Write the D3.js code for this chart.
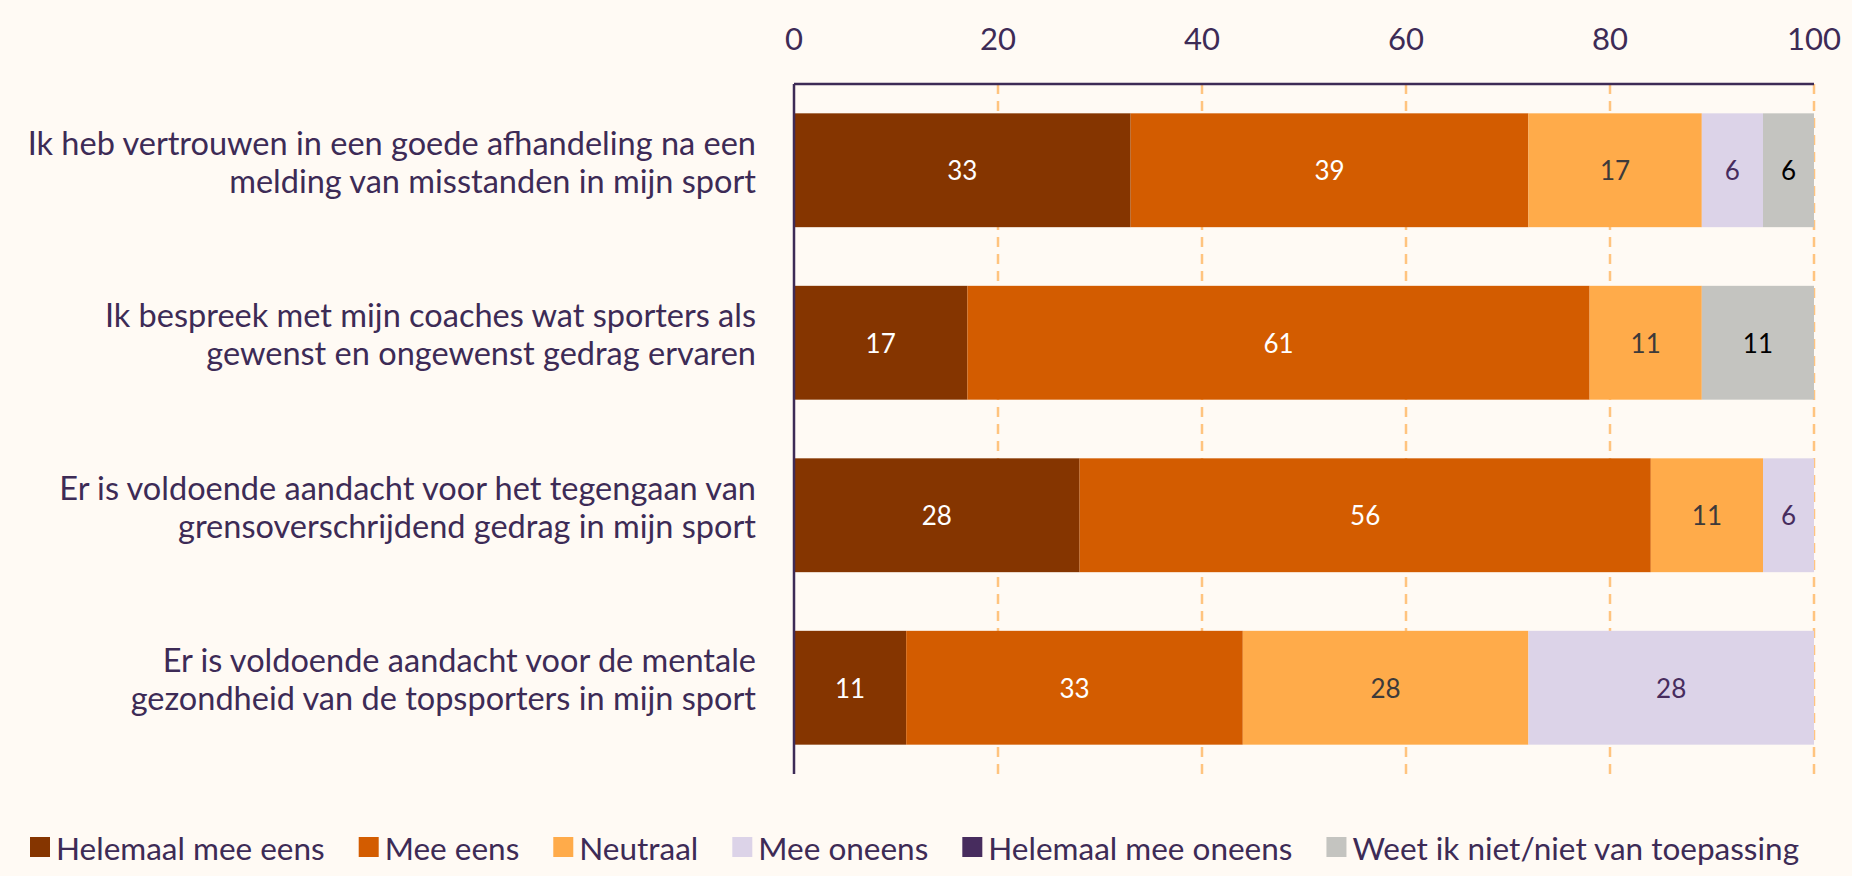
<!DOCTYPE html>
<html lang="nl">
<head>
<meta charset="UTF-8">
<title>Chart</title>
<script src="https://cdn.jsdelivr.net/npm/d3@7"></script>
<style>
  html, body { margin: 0; padding: 0; background: #FFFAF4; }
  svg { display: block; font-family: Lato, "Open Sans", sans-serif; }
</style>
</head>
<body>
<script>
    var categories = [
        ["Ik heb vertrouwen in een goede afhandeling na een", "melding van misstanden in mijn sport"],
        ["Ik bespreek met mijn coaches wat sporters als", "gewenst en ongewenst gedrag ervaren"],
        ["Er is voldoende aandacht voor het tegengaan van", "grensoverschrijdend gedrag in mijn sport"],
        ["Er is voldoende aandacht voor de mentale", "gezondheid van de topsporters in mijn sport"]
    ];
    var series = ["Helemaal mee eens", "Mee eens", "Neutraal", "Mee oneens", "Helemaal mee oneens", "Weet ik niet/niet van toepassing"];
    var values = [
        [33, 39, 17, 6, 0, 6],
        [17, 61, 11, 0, 0, 11],
        [28, 56, 11, 6, 0, 0],
        [11, 33, 28, 28, 0, 0]
    ];
    var ticks = [0, 20, 40, 60, 80, 100];

    var colors = ["#853500", "#D35C00", "#FFAB4A", "#DCD3E8", "#472C5E", "#C4C4C0"];
    var labelColors = ["#ffffff", "#ffffff", "#3D3A3A", "#472C5E", "#ffffff", "#000000"];
    var textColor = "#3D2B56";

    var width = 1852, height = 876;
    var svg = d3.select("body").append("svg")
        .attr("width", width).attr("height", height);

    var x = d3.scaleLinear().domain([0, 100]).range([794, 1814]).clamp(true);
    var y = d3.scaleBand().domain(d3.range(categories.length))
        .range([84, 774]).paddingInner(0.34).paddingOuter(0.17);

    // gridlines
    svg.append("g").selectAll("line").data(ticks.slice(1)).join("line")
        .attr("x1", d => x(d)).attr("x2", d => x(d))
        .attr("y1", 84).attr("y2", 774)
        .attr("stroke", "#FFC47F").attr("stroke-width", 2.5)
        .attr("stroke-dasharray", "10,7");

    // bars
    var rows = svg.append("g").selectAll("g").data(values).join("g");
    rows.each(function (row, i) {
        var g = d3.select(this);
        var start = 0;
        row.forEach(function (v, j) {
            if (v > 0) {
                var x0 = x(start), x1 = x(start + v);
                g.append("rect")
                    .attr("x", x0).attr("y", y(i))
                    .attr("width", x1 - x0).attr("height", y.bandwidth())
                    .attr("fill", colors[j]);
                g.append("text")
                    .attr("x", (x0 + x1) / 2)
                    .attr("y", y(i) + y.bandwidth() / 2)
                    .attr("text-anchor", "middle").attr("dominant-baseline", "central")
                    .attr("font-size", 26).attr("fill", labelColors[j])
                    .text(v);
            }
            start += v;
        });
    });

    // axes lines
    svg.append("line").attr("x1", 794).attr("x2", 1814).attr("y1", 84).attr("y2", 84)
        .attr("stroke", textColor).attr("stroke-width", 2.5);
    svg.append("line").attr("x1", 794).attr("x2", 794).attr("y1", 84).attr("y2", 774)
        .attr("stroke", textColor).attr("stroke-width", 2.5);

    // tick labels
    svg.append("g").selectAll("text").data(ticks).join("text")
        .attr("x", d => x(d)).attr("y", 50)
        .attr("text-anchor", "middle").attr("font-size", 31).attr("fill", textColor)
        .text(d => d);

    // category labels
    var cat = svg.append("g").selectAll("text").data(categories).join("text")
        .attr("text-anchor", "end").attr("font-size", 32.5).attr("fill", textColor)
        .attr("transform", (d, i) => "translate(756," + (y(i) + y.bandwidth() / 2) + ")");
    cat.selectAll("tspan").data(d => d).join("tspan")
        .attr("x", 0).attr("y", (d, k) => (k - 0.5) * 38 - 8)
        .attr("dy", "0.35em").text(d => d);

    // legend
    var legend = svg.append("g").attr("transform", "translate(30,848)");
    var lx = 0;
    series.forEach(function (s, j) {
        legend.append("rect").attr("x", lx).attr("y", -11).attr("width", 20).attr("height", 20)
            .attr("fill", colors[j]);
        var t = legend.append("text").attr("x", lx + 26).attr("y", 0)
            .attr("dominant-baseline", "central").attr("font-size", 31.5).attr("fill", textColor)
            .text(s);
        lx += 26 + t.node().getComputedTextLength() + 34;
    });
</script>
</body>
</html>
